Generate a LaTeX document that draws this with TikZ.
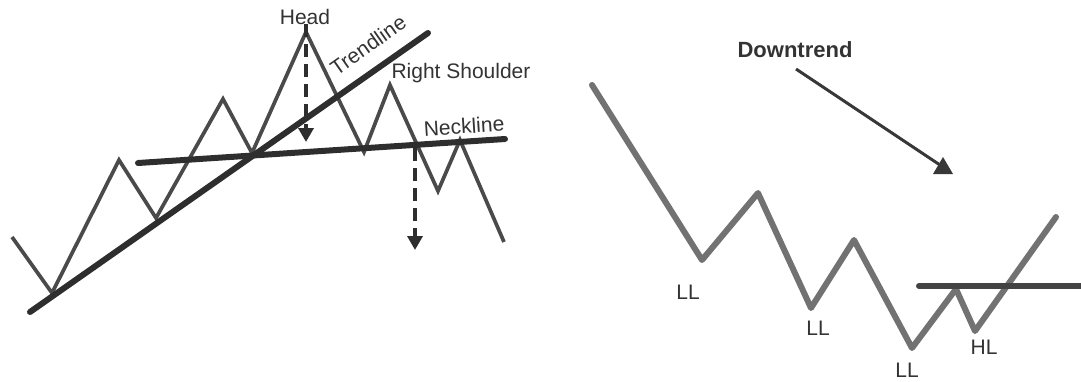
\documentclass[tikz,border=0pt]{standalone}
\usepackage{fontspec}
\setmainfont{Liberation Sans}
\usetikzlibrary{arrows.meta, positioning}
\definecolor{zig}{HTML}{4A4A4A}
\definecolor{bar}{HTML}{2E2E2E}
\definecolor{zagr}{HTML}{727272}
\definecolor{ink}{HTML}{333333}

\begin{document}
\begin{tikzpicture}[
    x=1pt, y=-1pt,
    font=\fontsize{21}{25}\selectfont,
    lab/.style={text=ink, inner sep=0pt},
    price/.style={draw=zig, line width=3.7pt, line join=miter},
    trend/.style={draw=bar, line width=6pt, line cap=round},
    target/.style={draw=bar, line width=3.5pt, dash pattern=on 13pt off 7pt, -{Triangle[width=15pt, length=14pt]}},
    swing/.style={draw=zagr, line width=6pt, line cap=round, line join=round},
  ]
  \useasboundingbox (0,0) rectangle (1081,381);
  % ---- head and shoulders
  \coordinate (hd) at (306,32);
  \coordinate (nk) at (415,148);
  \draw[price] (12,237) -- (52,293) -- (119,160) -- (156,218) -- (223,99) -- (252,153)
    -- (hd) -- (364,152) -- (390,85) -- (438,191) -- (460,140) -- (504,242);
  \draw[trend] (30,312) -- (428,33);
  \draw[trend] (138,163) -- (505,139);
  \coordinate (hdend) at (306,142);
  \coordinate (nkend) at (415,250);
  \draw[target] ([yshift=8pt]hd) -- (hdend);
  \draw[target] (nk) -- (nkend);
  \node[lab] (head) at (305,17) {Head};
  \node[lab, rotate=35] (tl) at (368,45) {Trendline};
  \node[lab] (rs) at (461,73) {Right Shoulder};
  \node[lab, rotate=3.7] (nl) at (464,126) {Neckline};
  % ---- downtrend
  \draw[swing] (592,85) -- (702,260) -- (758,193) -- (811,308) -- (854,240)
    -- (912,348) -- (956,289) -- (975,331) -- (1056,217);
  \draw[draw=bar!90, line width=6pt, line cap=round] (919,286) -- (1088,286);
  \node[lab, font=\fontsize{22}{26}\selectfont\bfseries] (dt) at (795,50) {Downtrend};
  \coordinate (dtend) at (943,167);
  \draw[draw=bar!95, line width=3pt] (796,69) -- (dtend);
  \fill[bar!95] (933,174) -- (953,174) -- (943,157) -- cycle;
  \node[lab] (ll1) at (688,292) {LL};
  \node[lab] (ll2) at (818,328) {LL};
  \node[lab] (ll3) at (907,370) {LL};
  \node[lab] (hl) at (984,347) {HL};
\end{tikzpicture}
\end{document}
